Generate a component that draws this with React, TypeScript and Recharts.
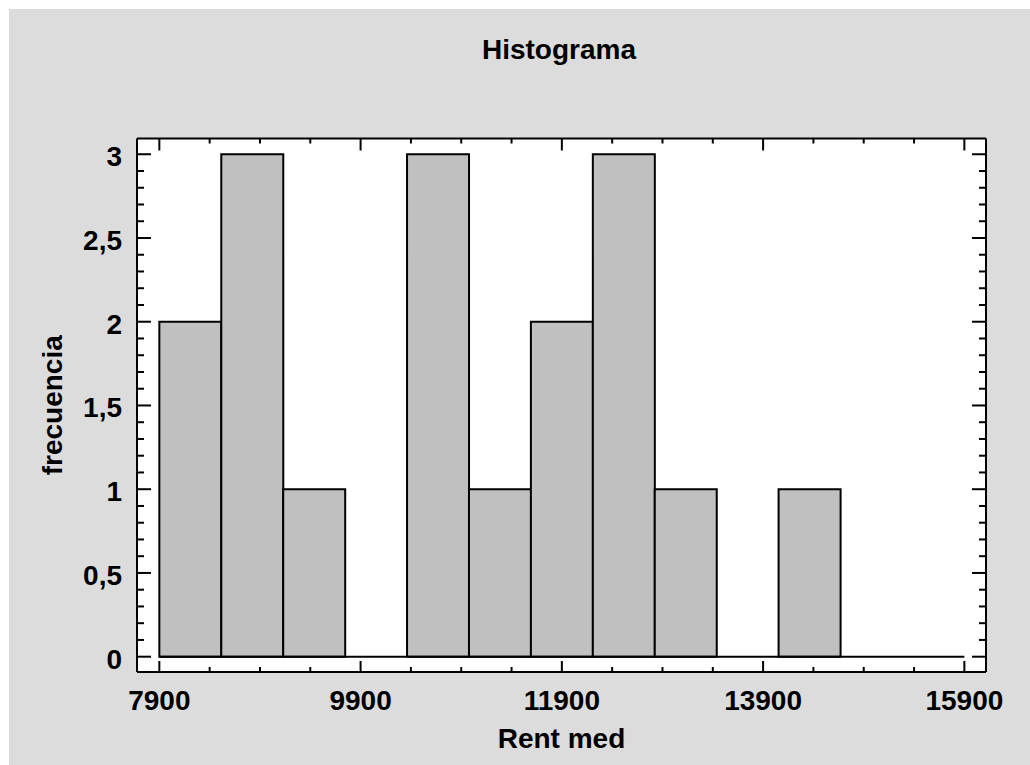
import React from 'react';
import { BarChart, Bar, XAxis, YAxis, CartesianGrid, ReferenceLine } from 'recharts';

// ---- data ----
const BIN_MIDS = [8207.7, 8823.1, 9438.5, 10053.8, 10669.2, 11284.6, 11900.0, 12515.4, 13130.8, 13746.2, 14361.5, 14976.9, 15592.3];
const COUNTS = [2, 3, 1, 0, 3, 1, 2, 3, 1, 0, 1, 0, 0];
const X_RANGE_START = 7900;
const X_RANGE_END = 15900;

const X_MAJOR_TICKS = [7900, 9900, 11900, 13900, 15900];
const X_ALL_TICKS = [
  7900, 8400, 8900, 9400, 9900, 10400, 10900, 11400, 11900, 12400, 12900, 13400,
  13900, 14400, 14900, 15400, 15900,
];
const Y_MAJOR_TICKS = [0, 0.5, 1, 1.5, 2, 2.5, 3];
const Y_ALL_TICKS = [
  0, 0.1, 0.2, 0.3, 0.4, 0.5, 0.6, 0.7, 0.8, 0.9, 1, 1.1, 1.2, 1.3, 1.4, 1.5, 1.6, 1.7, 1.8, 1.9,
  2, 2.1, 2.2, 2.3, 2.4, 2.5, 2.6, 2.7, 2.8, 2.9, 3,
];

const TITLE = 'Histograma';
const X_LABEL = 'Rent med';
const Y_LABEL = 'frecuencia';

const data = BIN_MIDS.map((mid, i) => ({ mid, count: COUNTS[i] }));

// ---- style ----
const FONT = '"Liberation Sans", Arial, Helvetica, sans-serif';
const FS = 28;
const X_DOMAIN: [number, number] = [7678, 16115];
const Y_DOMAIN: [number, number] = [-0.0914, 3.094];

const isXMajor = (v: number) => X_MAJOR_TICKS.some((t) => Math.abs(t - v) < 1e-6);
const isYMajor = (v: number) => Y_MAJOR_TICKS.some((t) => Math.abs(t - v) < 1e-6);
const fmtY = (v: number) => String(v).replace('.', ',');

const BottomTick = (props: any) => {
  const { x, y, payload } = props;
  const major = isXMajor(payload.value);
  return (
    <g>
      <line x1={x} x2={x} y1={y} y2={y - (major ? 11 : 5)} stroke="#000" strokeWidth={2} />
      {major && (
        <text x={x} y={y + 38} textAnchor="middle" fontFamily={FONT} fontWeight="bold" fontSize={FS} fill="#000">
          {payload.value}
        </text>
      )}
    </g>
  );
};

const TopTick = (props: any) => {
  const { x, y, payload } = props;
  const major = isXMajor(payload.value);
  return <line x1={x} x2={x} y1={y} y2={y + (major ? 12 : 5)} stroke="#000" strokeWidth={2} />;
};

const LeftTick = (props: any) => {
  const { x, y, payload } = props;
  const major = isYMajor(payload.value);
  return (
    <g>
      <line x1={x} x2={x + (major ? 14 : 7)} y1={y} y2={y} stroke="#000" strokeWidth={2} />
      {major && (
        <text x={x - 15} y={y + 12} textAnchor="end" fontFamily={FONT} fontWeight="bold" fontSize={FS} fill="#000">
          {fmtY(payload.value)}
        </text>
      )}
    </g>
  );
};

const RightTick = (props: any) => {
  const { x, y, payload } = props;
  const major = isYMajor(payload.value);
  return <line x1={x} x2={x - (major ? 14 : 7)} y1={y} y2={y} stroke="#000" strokeWidth={2} />;
};

const axisLine = { stroke: '#000', strokeWidth: 2 };

export default function App() {
  return (
    <div style={{ paddingLeft: 9, paddingTop: 9 }}>
      <style>{`body{margin:0;overflow:hidden;}`}</style>
      <div style={{ width: 1021, height: 756, background: '#dcdcdc' }}>
        <BarChart
          width={1021}
          height={756}
          data={data}
          margin={{ top: 128.5, right: 43, bottom: 0, left: 0 }}
          barCategoryGap={0}
          barGap={0}
        >
          <CartesianGrid xAxisId="main" yAxisId="main" horizontal={false} vertical={false} fill="#ffffff" />
          <XAxis
            xAxisId="main"
            dataKey="mid"
            type="number"
            orientation="bottom"
            domain={X_DOMAIN}
            allowDataOverflow
            ticks={X_ALL_TICKS}
            interval={0}
            height={93}
            tickSize={0}
            tickMargin={0}
            tickLine={false}
            axisLine={axisLine}
            tick={BottomTick}
            label={{ value: X_LABEL, position: 'insideBottom', offset: 17, fill: '#000', fontSize: FS, fontWeight: 'bold', fontFamily: FONT }}
          />
          <XAxis
            xAxisId="top"
            dataKey="mid"
            type="number"
            orientation="top"
            domain={X_DOMAIN}
            allowDataOverflow
            ticks={X_ALL_TICKS}
            interval={0}
            height={1}
            tickSize={0}
            tickMargin={0}
            tickLine={false}
            axisLine={axisLine}
            tick={TopTick}
          />
          <YAxis
            yAxisId="main"
            type="number"
            orientation="left"
            domain={Y_DOMAIN}
            allowDataOverflow
            ticks={Y_ALL_TICKS}
            interval={0}
            width={128}
            tickSize={0}
            tickMargin={0}
            tickLine={false}
            axisLine={axisLine}
            tick={LeftTick}
            label={{ value: Y_LABEL, angle: -90, position: 'insideLeft', offset: 43, fill: '#000', fontSize: FS, fontWeight: 'bold', fontFamily: FONT, style: { textAnchor: 'middle' } }}
          />
          <YAxis
            yAxisId="right"
            type="number"
            orientation="right"
            domain={Y_DOMAIN}
            allowDataOverflow
            ticks={Y_ALL_TICKS}
            interval={0}
            width={1}
            tickSize={0}
            tickMargin={0}
            tickLine={false}
            axisLine={axisLine}
            tick={RightTick}
          />
          <Bar
            xAxisId="main"
            yAxisId="main"
            dataKey="count"
            fill="#c0c0c0"
            stroke="#000"
            strokeWidth={2}
            isAnimationActive={false}
          />
          <ReferenceLine
            xAxisId="main"
            yAxisId="main"
            segment={[
              { x: X_RANGE_START, y: 0 },
              { x: X_RANGE_END, y: 0 },
            ]}
            stroke="#000"
            strokeWidth={2}
          />
          <text x={550} y={50} textAnchor="middle" fontFamily={FONT} fontWeight="bold" fontSize={FS} fill="#000">
            {TITLE}
          </text>
        </BarChart>
      </div>
    </div>
  );
}
